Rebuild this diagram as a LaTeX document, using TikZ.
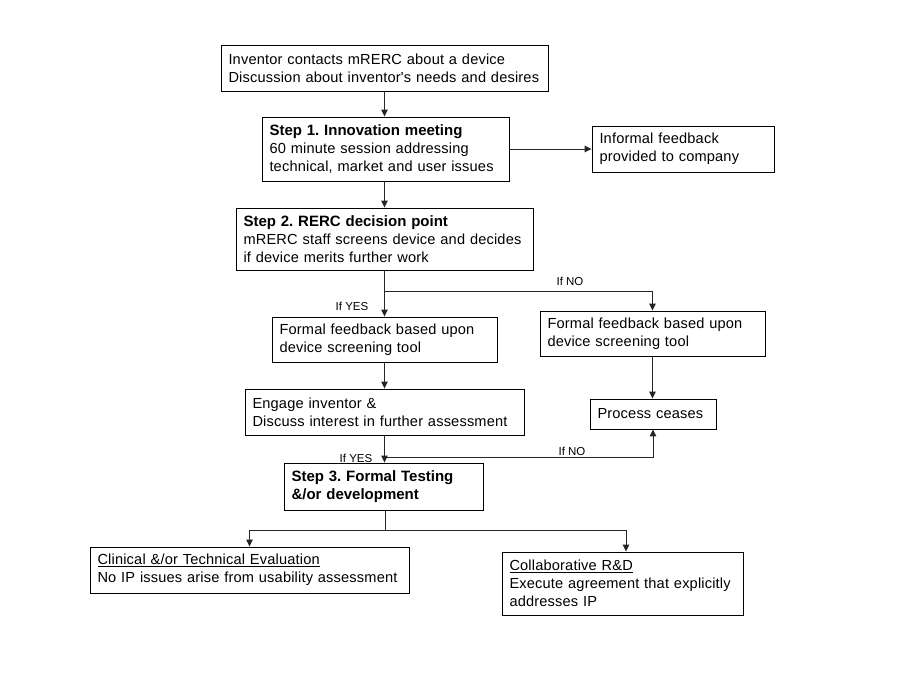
\documentclass[tikz,border=0pt]{standalone}
\usepackage{fontspec}
\setmainfont{Liberation Sans}
\newfontfamily\spacedfont[LetterSpace=1.2]{Liberation Sans}
\usetikzlibrary{arrows.meta}
\frenchspacing
\tikzset{
  box/.style={draw=black, line width=0.9pt, rectangle, inner xsep=7.5pt, inner ysep=2pt, align=left,
    font=\spacedfont\fontsize{14.6}{18}\selectfont, fill=white},
  conn/.style={draw=black!85, line width=1pt},
  arr/.style={conn, -{Triangle[length=7pt,width=6.5pt]}},
  lbl/.style={font=\fontsize{11.5}{13}\selectfont, inner sep=0pt}
}
\newcommand{\bt}[1]{\mbox{\normalfont\fontsize{15}{18}\selectfont\bfseries #1}}
\newcommand{\tl}[1]{\mbox{#1}}
\begin{document}
\begin{tikzpicture}[x=1pt,y=-1pt]
\useasboundingbox[fill=white] (0,0) rectangle (900,675);
\node[box, minimum width=327pt, minimum height=46pt, text width=312pt] (a) at (384.5,68)
  {\tl{Inventor contacts mRERC about a device}\\\tl{Discussion about inventor's needs and desires}};
\node[box, minimum width=247pt, minimum height=64pt, text width=232pt] (b) at (385.5,149)
  {\bt{Step 1. Innovation meeting}\\\tl{60 minute session addressing}\\\tl{technical, market and user issues}};
\node[box, minimum width=182pt, minimum height=46pt, text width=167pt] (c) at (683,149)
  {\tl{Informal feedback}\\\tl{provided to company}};
\node[box, minimum width=297pt, minimum height=62pt, text width=282pt] (d) at (384.5,239)
  {\bt{Step 2. RERC decision point}\\\tl{mRERC staff screens device and decides}\\\tl{if device merits further work}};
\node[box, minimum width=225pt, minimum height=45pt, text width=210pt] (e) at (384.5,339.5)
  {\tl{Formal feedback based upon}\\\tl{device screening tool}};
\node[box, minimum width=225pt, minimum height=45pt, text width=210pt] (f) at (652.5,333.5)
  {\tl{Formal feedback based upon}\\\tl{device screening tool}};
\node[box, minimum width=279pt, minimum height=46pt, text width=264pt] (g) at (384.5,412)
  {\tl{Engage inventor \&}\\\tl{Discuss interest in further assessment}};
\node[box, minimum width=126pt, minimum height=30pt, text width=111pt] (h) at (653,414)
  {\tl{Process ceases}};
\node[box, minimum width=199pt, minimum height=47pt, text width=184pt] (i) at (383.5,486.5)
  {\bt{Step 3. Formal Testing}\\\bt{\&/or development}};
\node[box, minimum width=319pt, minimum height=46pt, text width=304pt] (j) at (249.5,570)
  {\tl{\underline{Clinical \&/or Technical Evaluation}}\\\tl{No IP issues arise from usability assessment}};
\node[box, minimum width=241pt, minimum height=63pt, text width=226pt] (k) at (622.5,583.5)
  {\tl{\underline{Collaborative R\&D}}\\\tl{Execute agreement that explicitly}\\\tl{addresses IP}};
\coordinate (j1) at (385,291);
\coordinate (j2) at (385,457);
\coordinate (j3) at (385,530);
\draw[arr] (a.south) -- (a.south |- b.north);
\draw[arr] (b.east) -- (c.west |- b.east);
\draw[arr] (b.south -| a.south) -- (a.south |- d.north);
\draw[arr] (d.south) -- (d.south |- e.north);
\draw[arr] (j1) -| (f.north);
\draw[arr] (e.south) -- (e.south |- g.north);
\draw[arr] (f.south) -- (f.south |- h.north);
\draw[arr] (g.south) -- (g.south |- i.north);
\draw[arr] (j2) -| (h.south);
\draw[conn] (i.south -| j3) -- (j3);
\draw[arr] (j3) -| (j.north);
\draw[arr] ([xshift=3.5pt]j3 -| k.north) -- ([xshift=3.5pt]k.north);
\draw[conn] (j3) -- ([xshift=3.5pt]j3 -| k.north);
\node[lbl] (l1) at (570,281) {If NO};
\node[lbl] (l2) at (352,306) {If YES};
\node[lbl] (l3) at (356,458) {If YES};
\node[lbl] (l4) at (572,451) {If NO};
\end{tikzpicture}
\end{document}
